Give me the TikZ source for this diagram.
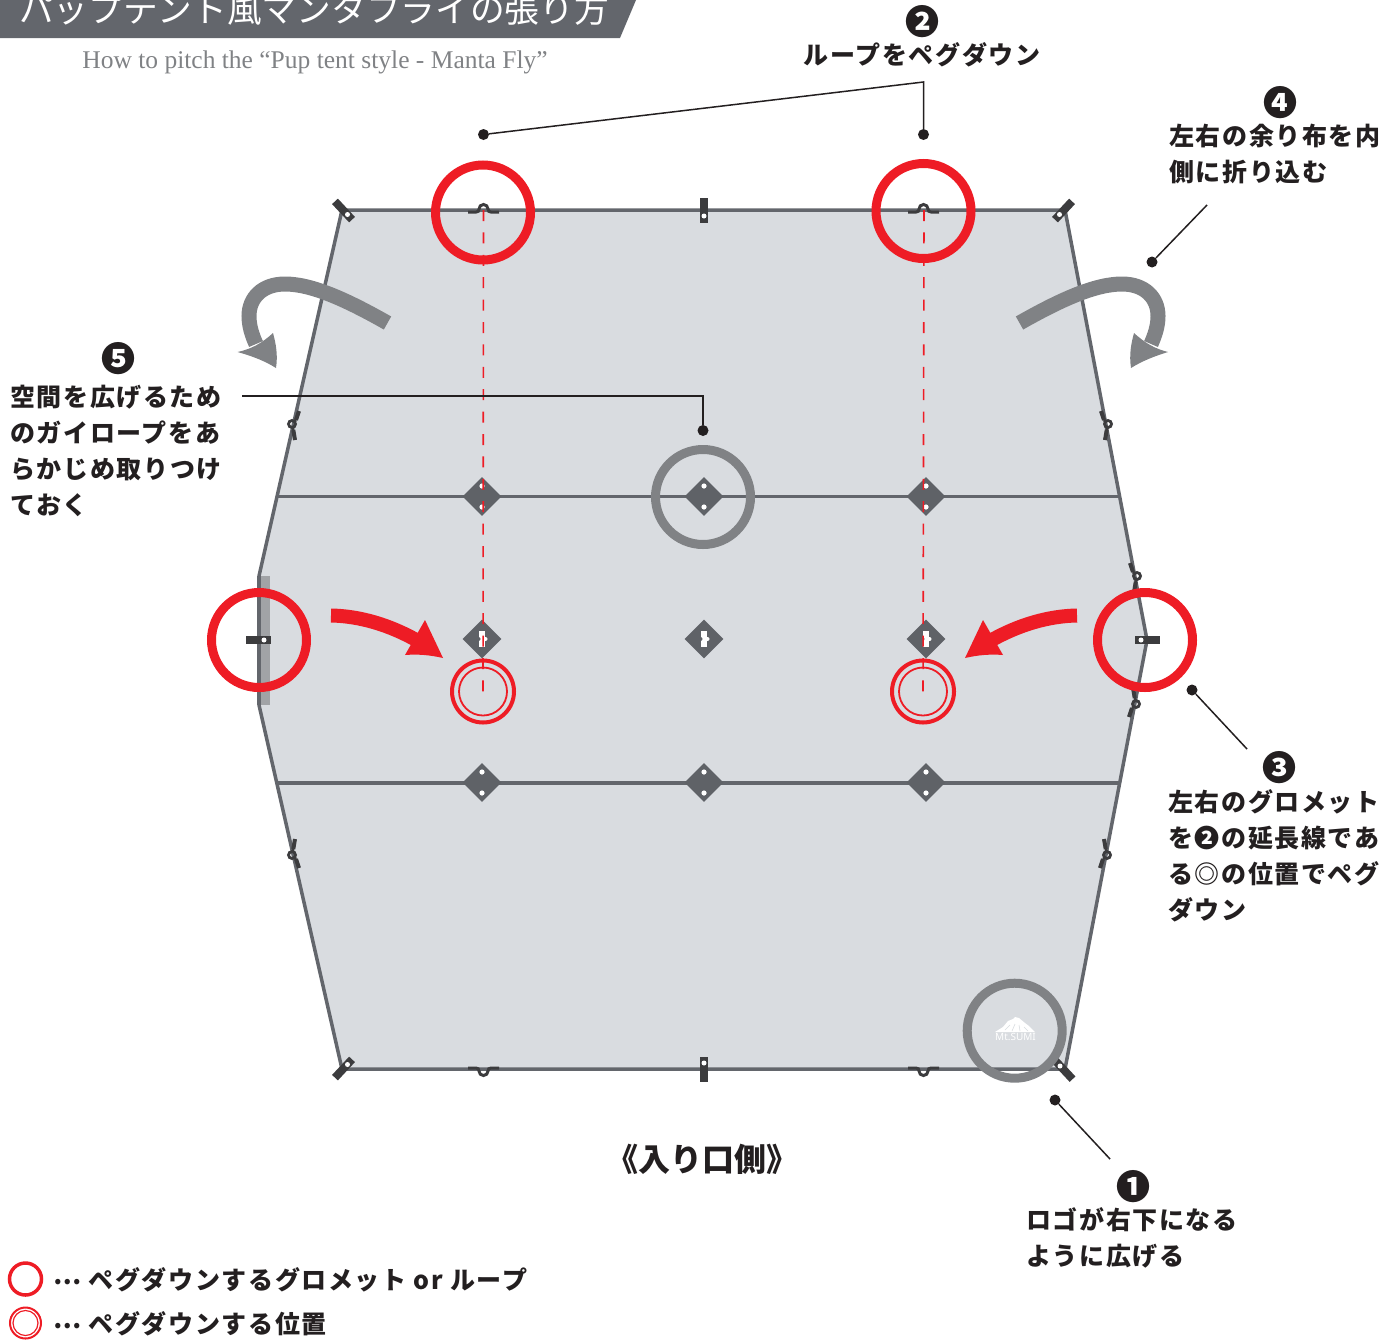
\documentclass[tikz,border=0pt]{standalone}
\usepackage{fontspec}
\usetikzlibrary{shapes.geometric}
\newfontfamily\jpfont[LetterSpace=6.5]{Noto Sans CJK JP}
\newfontfamily\jptitle{Noto Sans CJK JP}
\newfontfamily\enfont{Liberation Serif}
\newfontfamily\logofont{Noto Sans}
\definecolor{ink}{HTML}{231F20}
\definecolor{tarp}{HTML}{D9DCE0}
\definecolor{edge}{HTML}{63666C}
\definecolor{tab}{HTML}{3C3C3E}
\definecolor{patch}{HTML}{5F6267}
\definecolor{fold}{HTML}{808285}
\definecolor{peg}{HTML}{EE1C25}
\definecolor{side}{HTML}{A1A3A6}
\begin{document}
\begin{tikzpicture}[x=1pt, y=-1pt, node distance = {222pt},
    label/.style = {font=\jpfont\bfseries\fontsize{25}{36}\selectfont, align=left, inner sep=0, text=ink},
    num/.style = {font=\jpfont\bfseries\fontsize{34}{36}\selectfont, inner sep=0, text=ink},
    dot/.style = {circle, fill=ink, inner sep=0, minimum size=11pt},
    leader/.style = {draw=ink, line width=1.5pt},
    ring/.style = {draw=peg, circle, inner sep=0, line width=9pt, minimum size=95pt},
    greyring/.style = {ring, draw=fold},
    pegouter/.style = {draw=peg, circle, inner sep=0, line width=4pt, minimum size=62pt},
    peginner/.style = {draw=peg, circle, inner sep=0, line width=1.8pt, minimum size=48pt},
    patchbase/.style = {diamond, fill=patch, inner sep=0, minimum size=39pt},
    holes/.style = {patchbase, path picture={
        \fill[white] ([yshift=10.5pt]path picture bounding box.center) circle (2.6pt);
        \fill[white] ([yshift=-10.5pt]path picture bounding box.center) circle (2.6pt);}},
    slot/.style = {patchbase, path picture={
        \fill[white] ([xshift=-3pt,yshift=-8pt]path picture bounding box.center) rectangle ([xshift=3pt,yshift=8pt]path picture bounding box.center);
        \fill[patch] ([xshift=-3.5pt]path picture bounding box.center) circle (2pt);
        \fill[white] ([xshift=3.5pt]path picture bounding box.center) circle (2pt);}},
    seam/.style = {draw=edge, line width=3.5pt},
    guide/.style = {draw=peg, line width=1.6pt, dash pattern=on 11pt off 11.4pt},
    tabbar/.style = {fill=tab, inner sep=0, minimum width=25pt, minimum height=8pt},
    tabhole/.style = {circle, fill=white, inner sep=0, minimum size=5pt},
    loopline/.style = {draw=tab, line width=3pt},
    sideloop/.pic = {
        \draw[loopline, line width=4pt] (-7,-13) -- (-4,-4);
        \draw[loopline, line width=2.5pt] (-4,-4) -- (-2.5,-2.5);
        \draw[loopline, line width=4pt] (-1.3,6) -- (-3,16);
        \draw[loopline, line width=2.5pt] (-0.5,3) -- (-1.3,6);
        \draw[loopline, line width=2.8pt] (0,0) circle (3.5);
    }]
    \useasboundingbox (0, 0) rectangle (1396, 1339);

    \fill[edge] (0, 0) -- (636, 0) -- (620, 38) -- (0, 38) -- cycle;
    \node[font=\jptitle\fontsize{34.7}{36}\selectfont, text=white, inner sep=0](title) at (314, 9) {パップテント風マンタフライの張り方};
    \node[font=\enfont\fontsize{25.5}{30}\selectfont, text=fold, inner sep=0](subtitle) at (315, 62.5) {How to pitch the “Pup tent style - Manta Fly”};

    \filldraw[fill=tarp, draw=edge, line width=3.5pt, line join=round] (342, 210) -- (1065, 210) -- (1147, 640) -- (1065, 1069) -- (342, 1069) -- (259, 705) -- (259, 576) -- cycle;
    \fill[side] (259.5, 576) rectangle (270, 705);
    \draw[edge, line width=3.5pt] (259, 576) -- (259, 705);

    \coordinate (sa1) at (277, 496.5);
    \coordinate (sb1) at (1119, 496.5);
    \coordinate (sa2) at (277, 783);
    \coordinate (sb2) at (1119, 783);
    \draw[seam](sa1) -- (sb1);
    \draw[seam](sa2) -- (sb2);

    \node[holes](p11) at (482, 496.5) {};
    \node[holes](p12) [right of = p11] {};
    \node[holes](p13) [right of = p12] {};
    \node[slot](p21) at (482, 639) {};
    \node[slot](p22) [right of = p21] {};
    \node[slot](p23) [right of = p22] {};
    \node[holes](p31) at (482, 782.5) {};
    \node[holes](p32) [right of = p31] {};
    \node[holes](p33) [right of = p32] {};

    \fill[tab, rotate around={-47:(343.5, 210.5)}] (331, 206.5) rectangle (356, 214.5);
    \fill[tab, rotate around={47:(1063.5, 210.5)}] (1051, 206.5) rectangle (1076, 214.5);
    \fill[tab, rotate around={47:(343.5, 1068.5)}] (331, 1064.5) rectangle (356, 1072.5);
    \fill[tab, rotate around={-47:(1064, 1070)}] (1051.5, 1066) rectangle (1076.5, 1074);
    \fill[white] (347.5, 214.5) circle (2.5);
    \fill[white] (1059.5, 214.5) circle (2.5);
    \fill[white] (347.5, 1064.5) circle (2.5);
    \fill[white] (1060, 1066) circle (2.5);

    \node[tabbar, rotate=90](tabtop) at (704, 210.5) {};
    \node[tabbar, rotate=90](tabbot) at (704, 1069.5) {};
    \node[tabbar](tableft) at (258.5, 640) {};
    \node[tabbar](tabright) at (1147.5, 640) {};
    \node[tabhole](holetop) at (704, 216) {};
    \node[tabhole](holebot) at (704, 1063) {};
    \node[tabhole](holeleft) at (264, 640) {};
    \node[tabhole](holeright) at (1141, 640) {};

    \draw[loopline] (468, 212) -- (476, 212) .. controls (478, 212) and (479, 211) .. (479, 209) .. controls (479, 206.5) and (481, 204.5) .. (483.5, 204.5) .. controls (486, 204.5) and (488, 206.5) .. (488, 209) .. controls (488, 211) and (489, 212) .. (491, 212) -- (499, 212);
    \draw[loopline] (908, 212) -- (916, 212) .. controls (918, 212) and (919, 211) .. (919, 209) .. controls (919, 206.5) and (921, 204.5) .. (923.5, 204.5) .. controls (926, 204.5) and (928, 206.5) .. (928, 209) .. controls (928, 211) and (929, 212) .. (931, 212) -- (939, 212);
    \draw[loopline] (468, 1068) -- (476, 1068) .. controls (478, 1068) and (479, 1069) .. (479, 1071) .. controls (479, 1073.5) and (481, 1075.5) .. (483.5, 1075.5) .. controls (486, 1075.5) and (488, 1073.5) .. (488, 1071) .. controls (488, 1069) and (489, 1068) .. (491, 1068) -- (499, 1068);
    \draw[loopline] (908, 1068) -- (916, 1068) .. controls (918, 1068) and (919, 1069) .. (919, 1071) .. controls (919, 1073.5) and (921, 1075.5) .. (923.5, 1075.5) .. controls (926, 1075.5) and (928, 1073.5) .. (928, 1071) .. controls (928, 1069) and (929, 1068) .. (931, 1068) -- (939, 1068);

    \pic at (1108, 424) {sideloop};
    \pic at (1137, 576) {sideloop};
    \pic[yscale=-1] at (1136, 704) {sideloop};
    \pic[yscale=-1] at (1107, 855) {sideloop};
    \pic[xscale=-1] at (292, 424) {sideloop};
    \pic[xscale=-1, yscale=-1] at (292, 855) {sideloop};

    \coordinate (looptl) at (483.5, 210);
    \coordinate (looptr) at (924, 210);
    \node[pegouter](pegl) at (483, 691.5) {};
    \node[peginner](pegli) at (483, 691.5) {};
    \node[pegouter](pegr) at (923, 691.5) {};
    \node[peginner](pegri) at (923, 691.5) {};
    \draw[guide](looptl) -- (pegl.center);
    \draw[guide](looptr) -- (pegr.center);

    \node[ring](r1) at (483, 212.5) {};
    \node[ring](r2) at (923.5, 211) {};
    \node[ring](r3) at (259, 640) {};
    \node[ring](r4) at (1145, 640) {};
    \node[greyring](r5) at (703, 497) {};
    \node[greyring](r6) at (1014.7, 1030.7) {};

    \draw[fold, line width=15pt] (1019.5, 323) .. controls (1060, 300) and (1095, 284) .. (1122, 284) .. controls (1145, 284) and (1158, 298) .. (1158, 316) .. controls (1158, 326) and (1155, 335) .. (1151, 344);
    \fill[fold] (1134, 333) .. controls (1146, 344) and (1156, 349) .. (1168, 352) .. controls (1155, 356) and (1142, 361) .. (1131, 368) .. controls (1129, 355) and (1131, 344) .. (1134, 333) -- cycle;
    \draw[fold, line width=15pt] (387.5, 323) .. controls (347, 300) and (312, 284) .. (285, 284) .. controls (262, 284) and (249, 298) .. (249, 316) .. controls (249, 326) and (252, 335) .. (256, 344);
    \fill[fold] (273, 333) .. controls (261, 344) and (251, 349) .. (237.5, 352) .. controls (252, 356) and (265, 361) .. (276, 368) .. controls (278, 355) and (276, 344) .. (273, 333) -- cycle;

    \draw[peg, line width=14pt] (331, 615.5) .. controls (360, 616) and (390, 625) .. (418, 641);
    \fill[peg] (425, 620) -- (443, 658) .. controls (430, 655) and (418, 654) .. (405, 655) -- cycle;
    \draw[peg, line width=14pt] (1077, 615.5) .. controls (1048, 616) and (1018, 625) .. (990, 641);
    \fill[peg] (983, 620) -- (965, 658) .. controls (978, 655) and (990, 654) .. (1003, 655) -- cycle;

    \fill[white] (995, 1032) -- (1003, 1027) -- (1008, 1021) -- (1013, 1019) -- (1015, 1017) -- (1019, 1018) -- (1025, 1023) -- (1029, 1026) -- (1035, 1032) -- cycle;
    \draw[tarp, line width=0.6pt] (1005, 1030) -- (1010, 1025) (1012, 1031) -- (1015, 1024) (1020, 1031) -- (1019, 1025) (1028, 1031) -- (1024, 1027);
    \node[font=\logofont\bfseries\fontsize{10}{11}\selectfont, text=white, inner sep=0](logo) at (1015.5, 1036.5) {Mt.SUMI};

    \node[num](n2) at (922, 22) {❷};
    \node[label, anchor=north](t2) at (922, 42) {ループをペグダウン};
    \node[dot](d2a) at (483.5, 134.5) {};
    \node[dot](d2b) at (923.5, 134.5) {};
    \coordinate (c2) at (923.5, 82);
    \draw[leader](d2a) -- (c2) -- (d2b);

    \node[num](n4) at (1280, 103) {❹};
    \node[label, anchor=north west](t4) at (1169, 124) {左右の余り布を内\\側に折り込む};
    \node[dot](d4) at (1152, 262) {};
    \coordinate (c4) at (1207, 205);
    \draw[leader](d4) -- (c4);

    \node[num](n5) at (118.5, 359) {❺};
    \node[label, anchor=north west](t5) at (10, 385) {空間を広げるため\\のガイロープをあ\\らかじめ取りつけ\\ておく};
    \node[dot](d5) at (703, 430.5) {};
    \coordinate (c5a) at (242, 396);
    \coordinate (c5b) at (703, 396);
    \draw[leader](c5a) -- (c5b) -- (d5);

    \node[num](n3) at (1279, 768) {❸};
    \node[label, anchor=north west](t3) at (1168, 789) {左右のグロメット\\を❷の延長線であ\\る◎の位置でペグ\\ダウン};
    \node[dot](d3) at (1192, 690) {};
    \coordinate (c3) at (1247, 749);
    \draw[leader](d3) -- (c3);

    \node[num](n1) at (1133, 1187) {❶};
    \node[label, anchor=north west](t1) at (1026, 1207) {ロゴが右下になる\\ように広げる};
    \node[dot](d1) at (1055, 1100) {};
    \coordinate (c1) at (1110, 1159);
    \draw[leader](d1) -- (c1);

    \node[label, font=\jptitle\bfseries\fontsize{32}{36}\selectfont](front) at (702, 1159) {《入り口側》};

    \node[draw=peg, circle, inner sep=0, line width=3.5pt, minimum size=32pt](key1) at (25.5, 1279) {};
    \node[draw=peg, circle, inner sep=0, line width=2pt, minimum size=31pt](key2) at (25.5, 1323) {};
    \node[draw=peg, circle, inner sep=0, line width=1.2pt, minimum size=25pt](key2i) at (25.5, 1323) {};
    \node[label, anchor=west](t6) at (53, 1280) {\raisebox{5pt}{⋯} ペグダウンするグロメット or ループ};
    \node[label, anchor=west](t7) at (53, 1324) {\raisebox{5pt}{⋯} ペグダウンする位置};
\end{tikzpicture}
\end{document}
